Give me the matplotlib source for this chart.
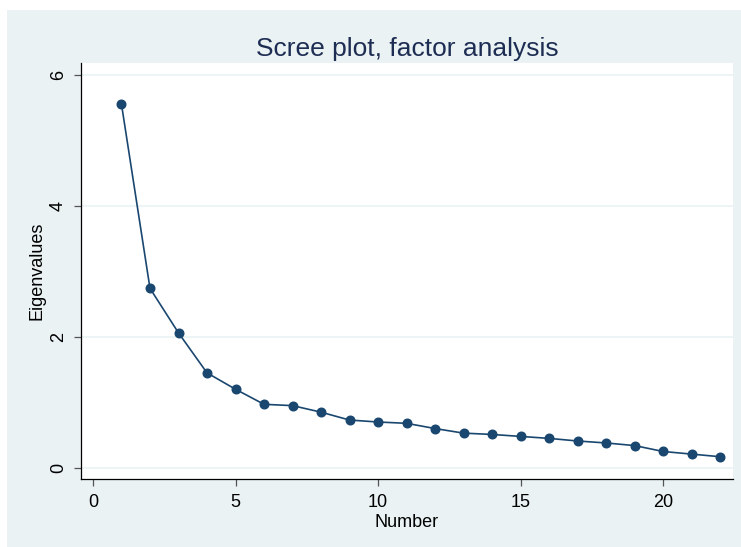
import matplotlib
matplotlib.use("Agg")
import matplotlib.pyplot as plt
from matplotlib.patches import Rectangle

plt.rcParams['font.family'] = ['Liberation Sans', 'DejaVu Sans']

number = list(range(1, 23))
eigenvalues = [5.55, 2.74, 2.06, 1.45, 1.20, 0.97, 0.95, 0.85, 0.73, 0.70, 0.68,
               0.60, 0.53, 0.51, 0.48, 0.45, 0.41, 0.38, 0.34, 0.25, 0.21, 0.17]
xticks = [0, 5, 10, 15, 20]
yticks = [0, 2, 4, 6]

W, H = 741, 547
fig = plt.figure(figsize=(W / 100, H / 100), dpi=100, facecolor="white")
# stata-like graph region
fig.add_artist(Rectangle((7 / W, 0), 1 - 7 / W, 1 - 10 / H, transform=fig.transFigure,
                         facecolor="#eaf2f3", edgecolor="none", zorder=-10))

ax = fig.add_axes([81 / W, 1 - 479 / H, (733 - 81) / W, (479 - 63) / H])
ax.set_zorder(1)
ax.set_facecolor("white")
ax.plot(number, eigenvalues, color="#1a476f", lw=1.2, marker="o", ms=6.2, zorder=3)

ax.set_xlim(-0.42, 22.45)
ax.set_ylim(-0.17, 6.18)
ax.set_xticks(xticks)
ax.set_yticks(yticks)
ax.grid(axis="y", color="#eaf2f3", lw=1.2)
ax.set_axisbelow(True)

for s in ["top", "right"]:
    ax.spines[s].set_visible(False)
for s in ["left", "bottom"]:
    ax.spines[s].set_color("black")
    ax.spines[s].set_linewidth(0.9)

ax.tick_params(axis="both", direction="out", length=5, width=0.9, labelsize=13,
               color="#555555", labelcolor="black")
for lab in ax.get_yticklabels():
    lab.set_rotation(90)
    lab.set_va("center")
ax.tick_params(axis="x", pad=6)
ax.tick_params(axis="y", pad=5)

ax.set_xlabel("Number", fontsize=13, labelpad=2)
ax.set_ylabel("Eigenvalues", fontsize=13, labelpad=3)
ax.set_title("Scree plot, factor analysis", fontsize=19, color="#1e2d53", pad=5)

fig.savefig("out.png", dpi=100, facecolor="white")
